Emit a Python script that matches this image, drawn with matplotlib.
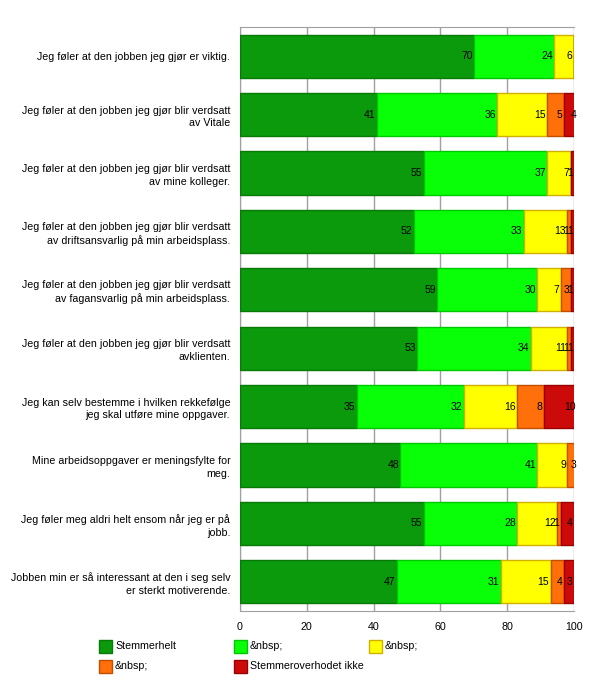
import numpy as np
import matplotlib.pyplot as plt
from matplotlib.patches import Rectangle

plt.rcParams['font.family'] = ['Liberation Sans', 'DejaVu Sans']

sporsmal = [
    "Jeg føler at den jobben jeg gjør er viktig.",
    "Jeg føler at den jobben jeg gjør blir verdsatt\nav Vitale",
    "Jeg føler at den jobben jeg gjør blir verdsatt\nav mine kolleger.",
    "Jeg føler at den jobben jeg gjør blir verdsatt\nav driftsansvarlig på min arbeidsplass.",
    "Jeg føler at den jobben jeg gjør blir verdsatt\nav fagansvarlig på min arbeidsplass.",
    "Jeg føler at den jobben jeg gjør blir verdsatt\navklienten.",
    "Jeg kan selv bestemme i hvilken rekkefølge\njeg skal utføre mine oppgaver.",
    "Mine arbeidsoppgaver er meningsfylte for\nmeg.",
    "Jeg føler meg aldri helt ensom når jeg er på\njobb.",
    "Jobben min er så interessant at den i seg selv\ner sterkt motiverende.",
]

helt_enig = [70, 41, 55, 52, 59, 53, 35, 48, 55, 47]
enig = [24, 36, 37, 33, 30, 34, 32, 41, 28, 31]
noytral = [6, 15, 7, 13, 7, 11, 16, 9, 12, 15]
uenig = [0, 5, 0, 1, 3, 1, 8, 3, 1, 4]
helt_uenig = [0, 4, 1, 1, 1, 1, 10, 0, 4, 3]

serier = [helt_enig, enig, noytral, uenig, helt_uenig]
navn = ["Stemmerhelt", "&nbsp;", "&nbsp;", "&nbsp;", "Stemmeroverhodet ikke"]
farger = ["#0b9a0b", "#08ff08", "#ffff00", "#ff6f0a", "#cc0a0a"]
kanter = ["#087a08", "#00c800", "#d0b000", "#c05000", "#9a0000"]

fig = plt.figure(figsize=(6, 6.9), dpi=100)
ax = fig.add_axes([240/600, 1 - 611/690, 334/600, 584/690])

y = np.arange(len(sporsmal))
venstre = np.zeros(len(sporsmal))
for serie, farge, kant in zip(serier, farger, kanter):
    verdier = np.array(serie, dtype=float)
    ax.barh(y, verdier, left=venstre, height=0.74, color=farge,
            edgecolor=kant, linewidth=1, zorder=3)
    for i, v in enumerate(verdier):
        if v > 0:
            ax.text(venstre[i] + v - 0.4, y[i], "%d" % v, ha='right',
                    va='center', fontsize=7.5, zorder=4)
    venstre += verdier

ax.set_xlim(0, 100)
ax.set_ylim(len(sporsmal) - 0.5, -0.5)
ax.set_xticks([0, 20, 40, 60, 80, 100])
ax.set_yticks(y)
ax.set_yticklabels(sporsmal, fontsize=7.7, multialignment='right',
                   linespacing=1.35)
ax.tick_params(axis='x', labelsize=7.7, length=0, pad=8)
ax.tick_params(axis='y', length=0, pad=7)
ax.grid(axis='x', color='#a0a0a0', linewidth=1, zorder=0)
for s in ax.spines.values():
    s.set_color('#a0a0a0')
ax.spines['right'].set_visible(False)

# legend, laid out row by row as in the original
kol_x = [99, 234, 369]
rad_y = [646, 666]
for k in range(len(navn)):
    rad, kol = divmod(k, 3)
    x0 = kol_x[kol]
    yc = rad_y[rad]
    fig.add_artist(Rectangle((x0/600, 1 - (yc + 6.5)/690), 13/600, 13/690,
                             facecolor=farger[k], edgecolor=kanter[k],
                             linewidth=1, transform=fig.transFigure))
    fig.text((x0 + 16)/600, 1 - yc/690, navn[k], fontsize=7.7, va='center')

fig.savefig("out.png", dpi=100)
